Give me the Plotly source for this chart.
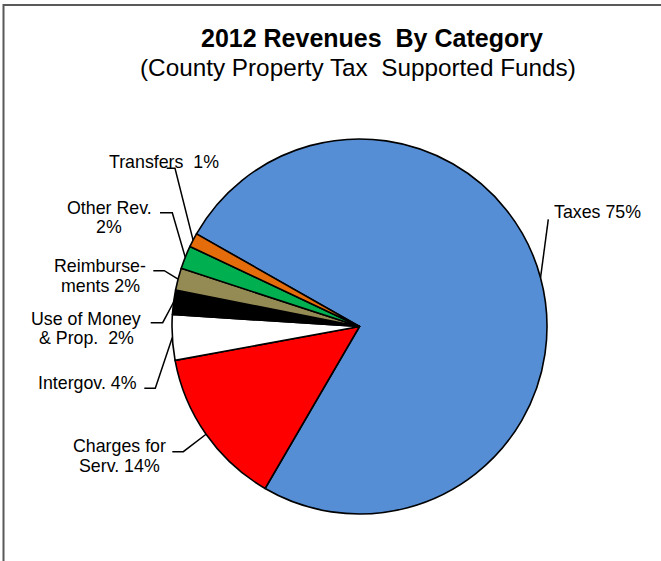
import math
import plotly.graph_objects as go

# Revenue shares by category (percent of total)
categories = ["Taxes", "Charges for Serv.", "Intergov.", "Use of Money & Prop.",
              "Reimbursements", "Other Rev.", "Transfers"]
values = [75.1, 13.7, 3.9, 2.1, 1.9, 2.0, 1.2]
colors = ["#558ED5", "#FF0000", "#FFFFFF", "#000000", "#948A54", "#00B050", "#E46C0A"]

# Label lines per category; {p} is replaced by the rounded share
label_lines = [
    ["Taxes {p}%"],
    ["Charges for", "Serv. {p}%"],
    ["Intergov. {p}%"],
    ["Use of Money", "&amp; Prop.\u00a0 {p}%"],
    ["Reimburse-", "ments {p}%"],
    ["Other Rev.", "{p}%"],
    ["Transfers\u00a0 {p}%"],
]

W, H = 661, 561
CX, CY, R = 359.5, 326.5, 187.5          # pie centre and radius in pixels
ROTATION = -60.4                        # start angle of first slice (clockwise from top)

# label placement: (anchor x, first baseline y, xanchor) and leader elbow points
label_pos = [
    (552, 218, "left"),
    (119, 452.5, "center"),
    (87, 389, "center"),
    (86, 325, "center"),
    (100, 272.5, "center"),
    (109, 214, "center"),
    (164, 168, "center"),
]
leader_start = [
    [(548.3, 219.3)],
    [(172.3, 451.7), (183.3, 451.7)],
    [(144.3, 388.3), (155.3, 388.3)],
    [(150.7, 322.7), (162.7, 322.7)],
    [(153.3, 270.7), (164.3, 270.7)],
    [(160.0, 212.7), (172.3, 212.7)],
    [(166.7, 168.3), (175.0, 168.3)],
]
LINE_GAP = 19.5
FONT = "Liberation Sans, Arial, sans-serif"
LABEL_SIZE = 17.8

total = sum(values)

fig = go.Figure()

fig.add_trace(go.Pie(
    labels=categories,
    values=values,
    sort=False,
    direction="clockwise",
    rotation=ROTATION,
    marker=dict(colors=colors, line=dict(color="#000000", width=1.6)),
    textinfo="none",
    hoverinfo="label+percent",
    showlegend=False,
    domain=dict(x=[(CX - R) / W, (CX + R) / W], y=[1 - (CY + R) / H, 1 - (CY - R) / H]),
))

# leader lines from the labels to the middle of each slice's rim
angle = ROTATION
annotations = []
for i, v in enumerate(values):
    sweep = 360.0 * v / total
    mid = math.radians(angle + sweep / 2)
    angle += sweep
    ex, ey = CX + R * math.sin(mid), CY - R * math.cos(mid)
    pts = leader_start[i] + [(ex, ey)]
    fig.add_trace(go.Scatter(
        x=[p[0] for p in pts], y=[p[1] for p in pts],
        mode="lines", line=dict(color="#000000", width=1.5),
        hoverinfo="skip", showlegend=False,
    ))
    pct = round(100 * v / total)
    lx, ly, xa = label_pos[i]
    for k, line in enumerate(label_lines[i]):
        annotations.append(dict(
            x=lx, y=ly + k * LINE_GAP - 6.2, xref="x", yref="y",
            text=line.format(p=pct), showarrow=False,
            xanchor=xa, yanchor="middle",
            font=dict(family=FONT, size=LABEL_SIZE, color="#000000"),
        ))

# titles
annotations.append(dict(
    x=371.5, y=37.5, xref="x", yref="y", showarrow=False,
    text="<b>2012 Revenues\u00a0 By Category</b>", xanchor="center", yanchor="middle",
    font=dict(family=FONT, size=25, color="#000000"),
))
annotations.append(dict(
    x=358, y=67.5, xref="x", yref="y", showarrow=False,
    text="(County Property Tax\u00a0 Supported Funds)", xanchor="center", yanchor="middle",
    font=dict(family=FONT, size=24.3, color="#000000"),
))

fig.update_layout(
    width=W, height=H,
    margin=dict(l=0, r=0, t=0, b=0),
    paper_bgcolor="#FFFFFF", plot_bgcolor="rgba(0,0,0,0)",
    xaxis=dict(range=[0, W], visible=False, fixedrange=True),
    yaxis=dict(range=[H, 0], visible=False, fixedrange=True),
    annotations=annotations,
    shapes=[dict(
        type="rect", xref="x", yref="y",
        x0=3.5, y0=5, x1=W + 20, y1=H + 20,
        line=dict(color="#595959", width=2), fillcolor="rgba(0,0,0,0)", layer="below",
    )],
)

fig.write_html("out.html")
